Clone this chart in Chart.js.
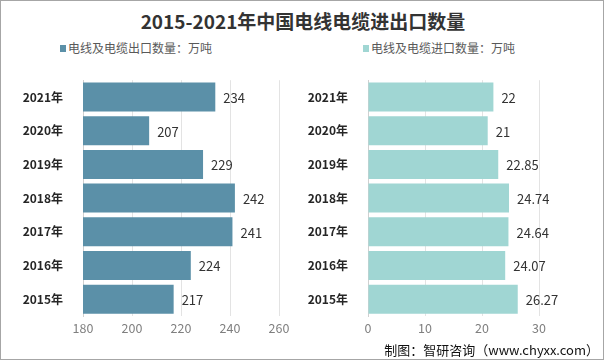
<!DOCTYPE html>
<html>
<head>
<meta charset="utf-8">
<script src="https://cdn.jsdelivr.net/npm/chart.js@4/dist/chart.umd.min.js"></script>
<style>
  body { margin: 0; background: #fff; }
  #wrap { position: relative; width: 602px; height: 358px; border: 1px solid #a6a6a6; overflow: hidden;
          font-family: "Noto Sans CJK SC", "Noto Sans", sans-serif; }
  #title { position: absolute; left: 0; top: 6px; width: 604px; text-align: center;
           font-size: 19px; font-weight: bold; color: #333; }
  .legend { position: absolute; top: 38px; font-size: 12px; color: #595959; white-space: nowrap; }
  .legend i { display: inline-block; width: 6px; height: 7px; margin-right: 2px; vertical-align: 1px; }
  #footer { position: absolute; right: 4px; top: 339px; font-size: 13px; color: #111; }
  canvas { position: absolute; }
</style>
</head>
<body>
<div id="wrap">
  <div id="title">2015-2021年中国电线电缆进出口数量</div>
  <div class="legend" style="left:59px"><i style="background:#5b90a8"></i>电线及电缆出口数量：万吨</div>
  <div class="legend" style="left:362px"><i style="background:#a0d6d3"></i>电线及电缆进口数量：万吨</div>
  <div style="position:absolute;left:0;top:60px;width:300px;height:280px"><canvas id="left"></canvas></div>
  <div style="position:absolute;left:300px;top:60px;width:304px;height:280px"><canvas id="right"></canvas></div>
  <div id="footer">制图：智研咨询（www.chyxx.com）</div>
</div>
<script>
const years = ['2021年', '2020年', '2019年', '2018年', '2017年', '2016年', '2015年'];
const exportVals = [234, 207, 229, 242, 241, 224, 217];
const importVals = [22, 21, 22.85, 24.74, 24.64, 24.07, 26.27];
const exportLabels = ['234', '207', '229', '242', '241', '224', '217'];
const importLabels = ['22', '21', '22.85', '24.74', '24.64', '24.07', '26.27'];

const font = '"Noto Sans CJK SC", "Noto Sans", sans-serif';

// draws the value text just past the end of each bar
const valueLabels = {
  id: 'valueLabels',
  afterDatasetsDraw(chart, args, opts) {
    const ctx = chart.ctx;
    const meta = chart.getDatasetMeta(0);
    ctx.save();
    ctx.font = '13px ' + font;
    ctx.fillStyle = '#333';
    ctx.textBaseline = 'middle';
    ctx.textAlign = 'left';
    meta.data.forEach((bar, i) => {
      ctx.fillText(opts.texts[i], bar.x + 8, bar.y + 1);
    });
    ctx.restore();
  }
};

function makeChart(id, values, texts, color, min, max, step, yWidth, padRight) {
  new Chart(document.getElementById(id), {
    type: 'bar',
    data: {
      labels: years,
      datasets: [{ data: values, backgroundColor: color, barPercentage: 0.86, categoryPercentage: 1 }]
    },
    options: {
      indexAxis: 'y',
      responsive: true,
      maintainAspectRatio: false,
      animation: false,
      layout: { padding: { top: 1, right: padRight, left: 0, bottom: 0 } },
      plugins: { legend: { display: false }, tooltip: { enabled: false }, valueLabels: { texts: texts } },
      scales: {
        x: {
          min: min, max: max,
          ticks: { stepSize: step, color: '#7f7f7f', font: { family: font, size: 12.5 }, padding: 5 },
          grid: { color: '#e3e3e3', drawTicks: false },
          border: { display: false },
          afterFit(s) { s.height = 25; }
        },
        y: {
          ticks: { color: '#262626', font: { family: font, size: 12, weight: 'bold' }, padding: 12 },
          grid: { display: false },
          border: { display: true, color: '#d0d0d0' },
          afterFit(s) { s.width = yWidth; }
        }
      }
    },
    plugins: [valueLabels]
  });
}

makeChart('left', exportVals, exportLabels, '#5b90a8', 180, 260, 20, 82, 22);
makeChart('right', importVals, importLabels, '#a0d6d3', 0, 30, 10, 67, 66);
</script>
</body>
</html>
